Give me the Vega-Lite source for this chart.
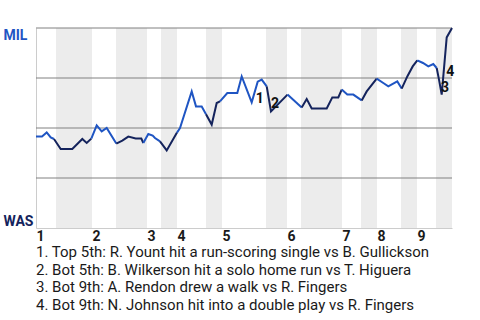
{
  "$schema": "https://vega.github.io/schema/vega-lite/v6.json",
  "width": 416,
  "height": 200,
  "autosize": {"type": "none"},
  "padding": {"left": 36, "top": 28, "right": 28, "bottom": 92},
  "config": {"font": "Roboto", "view": {"stroke": null}},
  "title": {
    "text": [
      "1. Top 5th: R. Yount hit a run-scoring single vs B. Gullickson",
      "2. Bot 5th: B. Wilkerson hit a solo home run vs T. Higuera",
      "3. Bot 9th: A. Rendon drew a walk vs R. Fingers",
      "4. Bot 9th: N. Johnson hit into a double play vs R. Fingers"
    ],
    "orient": "bottom",
    "anchor": "start",
    "frame": "group",
    "align": "left",
    "baseline": "top",
    "font": "Roboto",
    "fontSize": 15,
    "fontWeight": "normal",
    "lineHeight": 17.7,
    "color": "#1a1a1a",
    "offset": 2
  },
  "datasets": {
    "bands": [
      {"s": 20, "e": 56}, {"s": 80, "e": 111}, {"s": 125, "e": 141},
      {"s": 170, "e": 186}, {"s": 230, "e": 251}, {"s": 265, "e": 306},
      {"s": 325, "e": 341}, {"s": 365, "e": 381}, {"s": 400, "e": 416}
    ],
    "grid": [{"p": 25}, {"p": 50}, {"p": 75}, {"p": 100}],
    "wp": [
      {"seg": 1, "bat": "MIL", "t": 0, "p": 45.8},
      {"seg": 1, "bat": "MIL", "t": 6, "p": 45.8},
      {"seg": 1, "bat": "MIL", "t": 10.7, "p": 47.8},
      {"seg": 1, "bat": "MIL", "t": 14.7, "p": 45.3},
      {"seg": 1, "bat": "MIL", "t": 18, "p": 44.5},
      {"seg": 2, "bat": "WAS", "t": 18, "p": 44.5},
      {"seg": 2, "bat": "WAS", "t": 24.7, "p": 39.5},
      {"seg": 2, "bat": "WAS", "t": 36.3, "p": 39.5},
      {"seg": 2, "bat": "WAS", "t": 46.3, "p": 44.5},
      {"seg": 2, "bat": "WAS", "t": 50.7, "p": 42.5},
      {"seg": 2, "bat": "WAS", "t": 55.3, "p": 44.7},
      {"seg": 3, "bat": "MIL", "t": 55.3, "p": 44.7},
      {"seg": 3, "bat": "MIL", "t": 60.7, "p": 51.3},
      {"seg": 3, "bat": "MIL", "t": 65.7, "p": 48.3},
      {"seg": 3, "bat": "MIL", "t": 70.7, "p": 50},
      {"seg": 3, "bat": "MIL", "t": 80.3, "p": 42.2},
      {"seg": 4, "bat": "WAS", "t": 80.3, "p": 42.2},
      {"seg": 4, "bat": "WAS", "t": 86.3, "p": 43.7},
      {"seg": 4, "bat": "WAS", "t": 92.3, "p": 45.7},
      {"seg": 4, "bat": "WAS", "t": 99.7, "p": 44.8},
      {"seg": 4, "bat": "WAS", "t": 105.3, "p": 44.8},
      {"seg": 4, "bat": "WAS", "t": 107.3, "p": 42.5},
      {"seg": 5, "bat": "MIL", "t": 107.3, "p": 42.5},
      {"seg": 5, "bat": "MIL", "t": 112.3, "p": 47},
      {"seg": 5, "bat": "MIL", "t": 116.7, "p": 46.2},
      {"seg": 5, "bat": "MIL", "t": 119, "p": 45},
      {"seg": 5, "bat": "MIL", "t": 124, "p": 43.3},
      {"seg": 6, "bat": "WAS", "t": 124, "p": 43.3},
      {"seg": 6, "bat": "WAS", "t": 130.7, "p": 38.8},
      {"seg": 6, "bat": "WAS", "t": 141, "p": 47.7},
      {"seg": 7, "bat": "MIL", "t": 141, "p": 47.7},
      {"seg": 7, "bat": "MIL", "t": 144, "p": 50},
      {"seg": 7, "bat": "MIL", "t": 155.7, "p": 68.3},
      {"seg": 7, "bat": "MIL", "t": 160, "p": 60.8},
      {"seg": 7, "bat": "MIL", "t": 165.7, "p": 60.8},
      {"seg": 7, "bat": "MIL", "t": 170, "p": 56.9},
      {"seg": 8, "bat": "WAS", "t": 170, "p": 56.9},
      {"seg": 8, "bat": "WAS", "t": 175.7, "p": 51.7},
      {"seg": 8, "bat": "WAS", "t": 180.7, "p": 62.5},
      {"seg": 8, "bat": "WAS", "t": 184, "p": 63.3},
      {"seg": 9, "bat": "MIL", "t": 184, "p": 63.3},
      {"seg": 9, "bat": "MIL", "t": 191.3, "p": 67.5},
      {"seg": 9, "bat": "MIL", "t": 201.3, "p": 67.5},
      {"seg": 9, "bat": "MIL", "t": 205.7, "p": 75.8},
      {"seg": 9, "bat": "MIL", "t": 215.7, "p": 62.8},
      {"seg": 9, "bat": "MIL", "t": 221.7, "p": 73.2},
      {"seg": 9, "bat": "MIL", "t": 225.7, "p": 74.2},
      {"seg": 9, "bat": "MIL", "t": 230.7, "p": 70.8},
      {"seg": 10, "bat": "WAS", "t": 230.7, "p": 70.8},
      {"seg": 10, "bat": "WAS", "t": 235, "p": 58.3},
      {"seg": 10, "bat": "WAS", "t": 251.5, "p": 66.7},
      {"seg": 11, "bat": "MIL", "t": 251.5, "p": 66.7},
      {"seg": 11, "bat": "MIL", "t": 265.7, "p": 60.3},
      {"seg": 12, "bat": "WAS", "t": 265.7, "p": 60.3},
      {"seg": 12, "bat": "WAS", "t": 270.7, "p": 64.5},
      {"seg": 12, "bat": "WAS", "t": 275.7, "p": 59.8},
      {"seg": 12, "bat": "WAS", "t": 290.7, "p": 59.8},
      {"seg": 12, "bat": "WAS", "t": 296.3, "p": 65.3},
      {"seg": 12, "bat": "WAS", "t": 302.3, "p": 65.3},
      {"seg": 12, "bat": "WAS", "t": 305.7, "p": 69.2},
      {"seg": 13, "bat": "MIL", "t": 305.7, "p": 69.2},
      {"seg": 13, "bat": "MIL", "t": 311.3, "p": 66.7},
      {"seg": 13, "bat": "MIL", "t": 317.3, "p": 66.7},
      {"seg": 13, "bat": "MIL", "t": 325.7, "p": 63.8},
      {"seg": 14, "bat": "WAS", "t": 325.7, "p": 63.8},
      {"seg": 14, "bat": "WAS", "t": 330.7, "p": 68.3},
      {"seg": 14, "bat": "WAS", "t": 340.7, "p": 74.7},
      {"seg": 15, "bat": "MIL", "t": 340.7, "p": 74.7},
      {"seg": 15, "bat": "MIL", "t": 347.3, "p": 72.5},
      {"seg": 15, "bat": "MIL", "t": 352.3, "p": 70.8},
      {"seg": 15, "bat": "MIL", "t": 361.3, "p": 73.3},
      {"seg": 15, "bat": "MIL", "t": 365.7, "p": 69.7},
      {"seg": 16, "bat": "WAS", "t": 365.7, "p": 69.7},
      {"seg": 16, "bat": "WAS", "t": 371.3, "p": 75.8},
      {"seg": 16, "bat": "WAS", "t": 376.7, "p": 80.8},
      {"seg": 16, "bat": "WAS", "t": 381.3, "p": 83.8},
      {"seg": 17, "bat": "MIL", "t": 381.3, "p": 83.8},
      {"seg": 17, "bat": "MIL", "t": 387, "p": 82.5},
      {"seg": 17, "bat": "MIL", "t": 392.3, "p": 80.8},
      {"seg": 17, "bat": "MIL", "t": 397.3, "p": 82},
      {"seg": 17, "bat": "MIL", "t": 400.7, "p": 80},
      {"seg": 18, "bat": "WAS", "t": 400.7, "p": 80},
      {"seg": 18, "bat": "WAS", "t": 403, "p": 74.2},
      {"seg": 18, "bat": "WAS", "t": 405.7, "p": 66.7},
      {"seg": 18, "bat": "WAS", "t": 410.7, "p": 95.3},
      {"seg": 18, "bat": "WAS", "t": 416, "p": 100}
    ],
    "notes": [
      {"label": "1", "t": 223.8, "p": 64.5},
      {"label": "2", "t": 239, "p": 62},
      {"label": "3", "t": 409, "p": 69.8},
      {"label": "4", "t": 414.3, "p": 77.9}
    ]
  },
  "encoding": {
    "x": {
      "type": "quantitative",
      "scale": {"domain": [0, 416], "nice": false, "zero": false},
      "axis": {
        "title": null,
        "values": [0, 56, 111, 141, 186, 251, 306, 341, 381],
        "labelExpr": "indexof([0, 56, 111, 141, 186, 251, 306, 341, 381], datum.value) + 1",
        "labelAlign": "left",
        "labelFontSize": 14,
        "labelFontWeight": "bold",
        "labelColor": "#1a1a1a",
        "labelPadding": 1,
        "labelFlush": false,
        "labelOverlap": false,
        "ticks": false,
        "tickSize": 0,
        "grid": false,
        "domainColor": "#cccccc",
        "domainWidth": 1
      }
    },
    "y": {
      "type": "quantitative",
      "scale": {"domain": [0, 100], "nice": false, "zero": false},
      "axis": {
        "title": null,
        "values": [0, 100],
        "labelExpr": "datum.value > 50 ? 'MIL' : 'WAS'",
        "labelAlign": "left",
        "labelBaseline": {"condition": {"test": "datum.value > 50", "value": "top"}, "value": "bottom"},
        "labelColor": {"condition": {"test": "datum.value > 50", "value": "#1f55c3"}, "value": "#14235c"},
        "labelFontSize": 14,
        "labelFontWeight": "bold",
        "labelPadding": 33,
        "labelFlush": false,
        "labelOverlap": false,
        "ticks": false,
        "tickSize": 0,
        "grid": false,
        "domainColor": "#cccccc",
        "domainWidth": 1
      }
    }
  },
  "layer": [
    {
      "data": {"name": "bands"},
      "mark": {"type": "rect", "color": "#ececec"},
      "encoding": {"x": {"field": "s"}, "x2": {"field": "e"}}
    },
    {
      "data": {"name": "grid"},
      "mark": {"type": "rule", "color": "#808080", "strokeWidth": 1},
      "encoding": {"y": {"field": "p"}}
    },
    {
      "data": {"name": "wp"},
      "mark": {"type": "line", "strokeWidth": 2, "strokeJoin": "miter"},
      "encoding": {
        "x": {"field": "t"},
        "y": {"field": "p"},
        "detail": {"field": "seg", "type": "nominal"},
        "color": {
          "field": "bat",
          "type": "nominal",
          "scale": {"domain": ["MIL", "WAS"], "range": ["#1f55c3", "#14235c"]},
          "legend": null
        }
      }
    },
    {
      "data": {"name": "notes"},
      "mark": {"type": "text", "fontSize": 14, "fontWeight": "bold", "color": "#111111", "align": "center", "baseline": "middle"},
      "encoding": {"x": {"field": "t"}, "y": {"field": "p"}, "text": {"field": "label"}}
    }
  ]
}
